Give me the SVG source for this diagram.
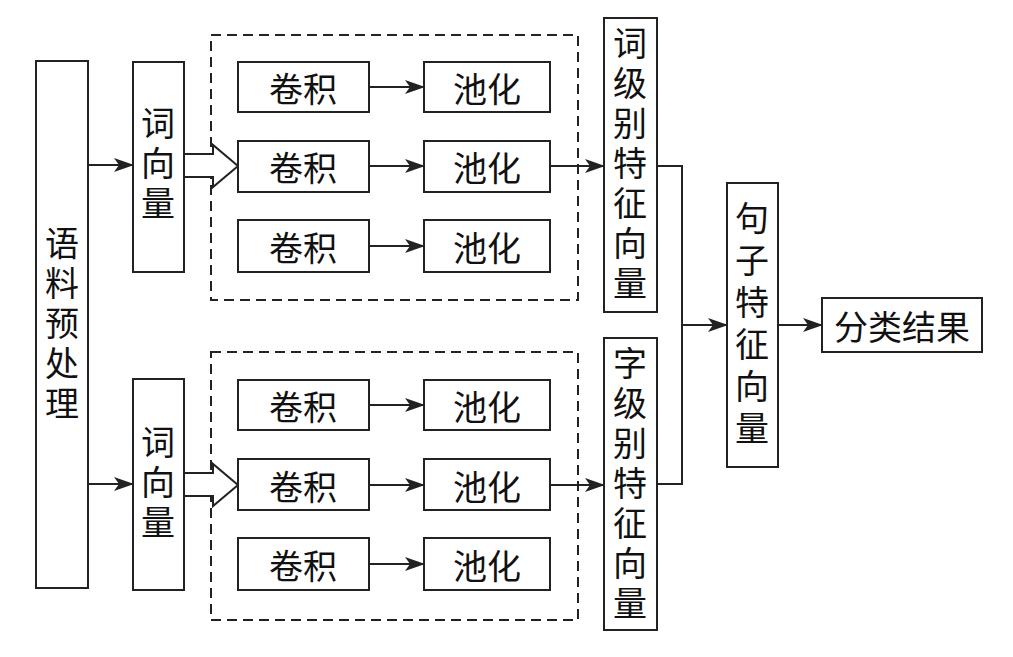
<svg xmlns="http://www.w3.org/2000/svg" width="1013" height="657" viewBox="0 0 1013 657">
<style>
.b{fill:#fff;stroke:#222;stroke-width:2}
.d{fill:none;stroke:#222;stroke-width:2;stroke-dasharray:10 6}
.t{font-family:"Noto Sans CJK SC","Noto Sans CJK JP",sans-serif;font-size:34px;fill:#111;text-anchor:middle;dominant-baseline:central}
.v{font-family:"Noto Sans CJK SC","Noto Sans CJK JP",sans-serif;font-size:34px;fill:#111;text-anchor:middle;writing-mode:vertical-rl;text-orientation:upright}
.c{fill:none;stroke:#222;stroke-width:2}
.h{fill:#fff;stroke:#222;stroke-width:2;stroke-linejoin:miter}
</style>
<defs>
<marker id="a" markerWidth="20" markerHeight="16" refX="19" refY="8" orient="auto" markerUnits="userSpaceOnUse">
<path d="M0,1 L20,8 L0,15 L5,8 z" fill="#222"/>
</marker>
</defs>
<rect width="1013" height="657" fill="#fff"/>
<g id="dash-top"><rect class="d" x="211" y="35" width="367" height="265"/></g>
<g id="dash-bottom"><rect class="d" x="211" y="352" width="367" height="268"/></g>
<g id="connectors">
<path class="c" d="M88,165 L133,165" marker-end="url(#a)"/>
<path class="c" d="M88,484 L133,484" marker-end="url(#a)"/>
<path class="h" d="M184,154 L213,154 L213,145 L238,166 L213,187 L213,177 L184,177"/>
<path class="h" d="M184,473 L213,473 L213,464 L238,485 L213,506 L213,496 L184,496"/>
<path class="c" d="M369,87 L424,87" marker-end="url(#a)"/>
<path class="c" d="M369,166 L424,166" marker-end="url(#a)"/>
<path class="c" d="M369,246 L424,246" marker-end="url(#a)"/>
<path class="c" d="M369,405 L424,405" marker-end="url(#a)"/>
<path class="c" d="M369,485 L424,485" marker-end="url(#a)"/>
<path class="c" d="M369,564 L424,564" marker-end="url(#a)"/>
<path class="c" d="M550,166 L604,166" marker-end="url(#a)"/>
<path class="c" d="M550,485 L604,485" marker-end="url(#a)"/>
<path class="c" d="M657,166 L682,166 L682,484 L657,484"/>
<path class="c" d="M682,325 L727,325" marker-end="url(#a)"/>
<path class="c" d="M778,325 L822,325" marker-end="url(#a)"/>
</g>
<g id="preprocess"><rect class="b" x="36" y="61" width="52" height="527"/>
<text class="v" x="62" y="326" letter-spacing="6">语料预处理</text></g>
<g id="wv-top"><rect class="b" x="133" y="62" width="51" height="210"/>
<text class="v" x="158" y="166" letter-spacing="6">词向量</text></g>
<g id="wv-bottom"><rect class="b" x="133" y="379" width="51" height="211"/>
<text class="v" x="158" y="485" letter-spacing="6">词向量</text></g>
<g id="conv1"><rect class="b" x="238" y="62" width="131" height="50"/><text class="t" x="303" y="87">卷积</text></g>
<g id="conv2"><rect class="b" x="238" y="141" width="131" height="51"/><text class="t" x="303" y="166">卷积</text></g>
<g id="conv3"><rect class="b" x="238" y="220" width="131" height="52"/><text class="t" x="303" y="246">卷积</text></g>
<g id="conv4"><rect class="b" x="238" y="380" width="131" height="50"/><text class="t" x="303" y="405">卷积</text></g>
<g id="conv5"><rect class="b" x="238" y="459" width="131" height="51"/><text class="t" x="303" y="485">卷积</text></g>
<g id="conv6"><rect class="b" x="238" y="538" width="131" height="52"/><text class="t" x="303" y="564">卷积</text></g>
<g id="pool1"><rect class="b" x="424" y="62" width="126" height="50"/><text class="t" x="487" y="87">池化</text></g>
<g id="pool2"><rect class="b" x="424" y="141" width="126" height="51"/><text class="t" x="487" y="166">池化</text></g>
<g id="pool3"><rect class="b" x="424" y="220" width="126" height="52"/><text class="t" x="487" y="246">池化</text></g>
<g id="pool4"><rect class="b" x="424" y="380" width="126" height="50"/><text class="t" x="487" y="405">池化</text></g>
<g id="pool5"><rect class="b" x="424" y="459" width="126" height="51"/><text class="t" x="487" y="485">池化</text></g>
<g id="pool6"><rect class="b" x="424" y="538" width="126" height="52"/><text class="t" x="487" y="564">池化</text></g>
<g id="word-feat"><rect class="b" x="604" y="18" width="53" height="294"/>
<text class="v" x="630" y="166" letter-spacing="6">词级别特征向量</text></g>
<g id="char-feat"><rect class="b" x="604" y="338" width="53" height="292"/>
<text class="v" x="630" y="486" letter-spacing="6">字级别特征向量</text></g>
<g id="sent-feat"><rect class="b" x="727" y="183" width="51" height="284"/>
<text class="v" x="752" y="327" letter-spacing="8">句子特征向量</text></g>
<g id="result"><rect class="b" x="822" y="298" width="160" height="54"/><text class="t" x="902" y="325">分类结果</text></g>
</svg>
